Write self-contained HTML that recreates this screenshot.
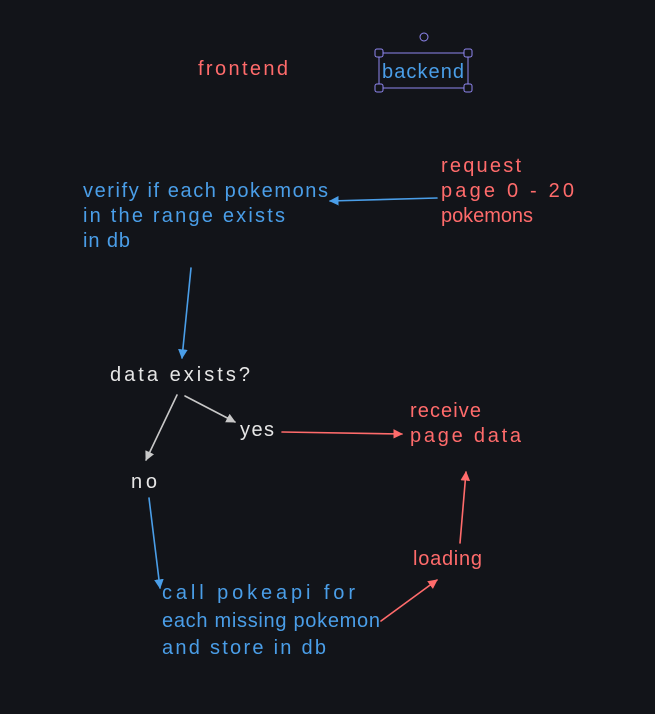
<!DOCTYPE html>
<html><head><meta charset="utf-8"><style>
html,body{margin:0;padding:0;background:#121419;}
svg{display:block}
text{font-family:"Liberation Sans",sans-serif;font-size:20px;}
.b{fill:#4a9ee8}.r{fill:#ff6b6b}.w{fill:#e6e6e6}
</style></head><body>
<svg width="655" height="714" viewBox="0 0 655 714">
<defs>
<marker id="ab" viewBox="0 0 10 10" refX="9" refY="5" markerWidth="6" markerHeight="6" orient="auto"><path d="M0,0L10,5L0,10z" fill="#4a9ee8"/></marker>
<marker id="ar" viewBox="0 0 10 10" refX="9" refY="5" markerWidth="6" markerHeight="6" orient="auto"><path d="M0,0L10,5L0,10z" fill="#ff6b6b"/></marker>
<marker id="ag" viewBox="0 0 10 10" refX="9" refY="5" markerWidth="6" markerHeight="6" orient="auto"><path d="M0,0L10,5L0,10z" fill="#c8c8c8"/></marker>
</defs>
<rect width="655" height="714" fill="#121419"/>

<text class="r" x="198" y="75" textLength="90">frontend</text>

<rect x="379" y="53" width="89" height="35" fill="none" stroke="#8f86f0" stroke-width="1"/>
<g fill="#121419" stroke="#8f86f0" stroke-width="1">
<rect x="375" y="49" width="8" height="8" rx="2"/><rect x="464" y="49" width="8" height="8" rx="2"/>
<rect x="375" y="84" width="8" height="8" rx="2"/><rect x="464" y="84" width="8" height="8" rx="2"/>
<circle cx="424" cy="37" r="4"/>
</g>
<text class="b" x="382" y="78" textLength="82">backend</text>

<text class="b" x="83" y="197" textLength="245">verify if each pokemons</text>
<text class="b" x="83" y="222" textLength="202">in the range exists</text>
<text class="b" x="83" y="247" textLength="47">in db</text>

<text class="r" x="441" y="172" textLength="80">request</text>
<text class="r" x="441" y="197" textLength="133">page 0 - 20</text>
<text class="r" x="441" y="222" textLength="92">pokemons</text>

<text class="w" x="110" y="381" textLength="140">data exists?</text>
<text class="w" x="240" y="436" textLength="34">yes</text>
<text class="w" x="131" y="488" textLength="26">no</text>

<text class="r" x="410" y="417" textLength="71">receive</text>
<text class="r" x="410" y="442" textLength="111">page data</text>
<text class="r" x="413" y="565" textLength="69">loading</text>

<text class="b" x="162" y="599" textLength="193">call pokeapi for</text>
<text class="b" x="162" y="627" textLength="218">each missing pokemon</text>
<text class="b" x="162" y="654" textLength="164">and store in db</text>

<g fill="none" stroke-width="1.6" stroke-linecap="round">
<line x1="437" y1="198" x2="330" y2="201" stroke="#4a9ee8" marker-end="url(#ab)"/>
<line x1="191" y1="268" x2="182" y2="358" stroke="#4a9ee8" marker-end="url(#ab)"/>
<line x1="177" y1="395" x2="146" y2="460" stroke="#c8c8c8" marker-end="url(#ag)"/>
<line x1="185" y1="396" x2="235" y2="422" stroke="#c8c8c8" marker-end="url(#ag)"/>
<line x1="282" y1="432" x2="402" y2="434" stroke="#ff6b6b" marker-end="url(#ar)"/>
<line x1="149" y1="498" x2="160" y2="588" stroke="#4a9ee8" marker-end="url(#ab)"/>
<line x1="381" y1="621" x2="437" y2="580" stroke="#ff6b6b" marker-end="url(#ar)"/>
<line x1="460" y1="543" x2="466" y2="472" stroke="#ff6b6b" marker-end="url(#ar)"/>
</g>
</svg>
</body></html>
